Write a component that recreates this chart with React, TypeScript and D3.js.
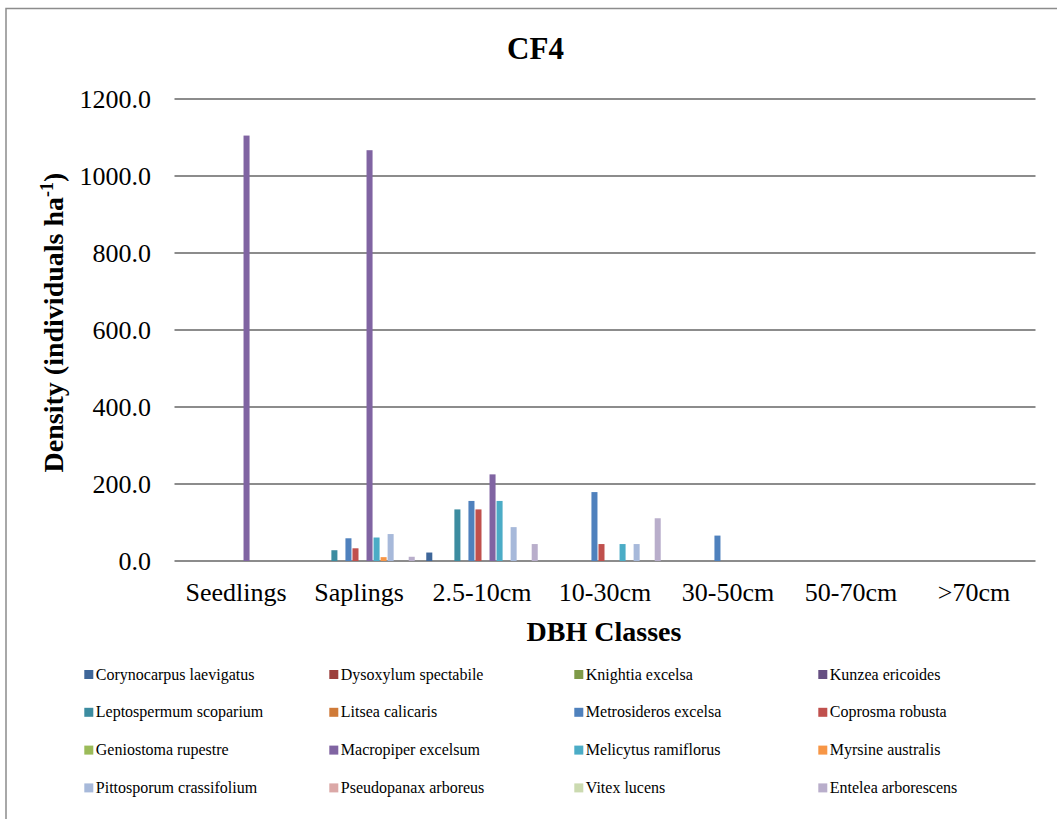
import React from "react";
import * as d3 from "d3";

const categories = ["Seedlings", "Saplings", "2.5-10cm", "10-30cm", "30-50cm", "50-70cm", ">70cm"];
const yTicks = [0, 200, 400, 600, 800, 1000, 1200];

const corynocarpus = [0, 0, 22, 0, 0, 0, 0];
const dysoxylum = [0, 0, 0, 0, 0, 0, 0];
const knightia = [0, 0, 0, 0, 0, 0, 0];
const kunzea = [0, 0, 0, 0, 0, 0, 0];
const leptospermum = [0, 28, 134, 0, 0, 0, 0];
const litsea = [0, 0, 0, 0, 0, 0, 0];
const metrosideros = [0, 59, 156, 179, 66, 0, 0];
const coprosma = [0, 33, 134, 44, 0, 0, 0];
const geniostoma = [0, 0, 0, 0, 0, 0, 0];
const macropiper = [1105, 1067, 225, 0, 0, 0, 0];
const melicytus = [0, 61, 156, 44, 0, 0, 0];
const myrsine = [0, 10, 0, 0, 0, 0, 0];
const pittosporum = [0, 70, 88, 44, 0, 0, 0];
const pseudopanax = [0, 0, 0, 0, 0, 0, 0];
const vitex = [0, 0, 0, 0, 0, 0, 0];
const entelea = [0, 11, 44, 111, 0, 0, 0];

const speciesNames = [
  "Corynocarpus laevigatus", "Dysoxylum spectabile", "Knightia excelsa", "Kunzea ericoides",
  "Leptospermum scoparium", "Litsea calicaris", "Metrosideros excelsa", "Coprosma robusta",
  "Geniostoma rupestre", "Macropiper excelsum", "Melicytus ramiflorus", "Myrsine australis",
  "Pittosporum crassifolium", "Pseudopanax arboreus", "Vitex lucens", "Entelea arborescens",
];
const speciesValues = [
  corynocarpus, dysoxylum, knightia, kunzea,
  leptospermum, litsea, metrosideros, coprosma,
  geniostoma, macropiper, melicytus, myrsine,
  pittosporum, pseudopanax, vitex, entelea,
];
const speciesColors = [
  "#3E6699", "#9C3F3C", "#7E9A48", "#664F82",
  "#3C8CA0", "#CF7A38", "#4F81BD", "#C0504D",
  "#9BBB59", "#8064A2", "#4BACC6", "#F79646",
  "#A7B9DA", "#DBA8A7", "#CBDAB0", "#B9AECB",
];

const FONT = "'Liberation Serif', 'Times New Roman', serif";

export default function App() {
  const W = 1057, H = 819;
  const left = 174.5, right = 1035.5, top = 99, bottom = 561;

  const x = d3.scaleBand<string>().domain(categories).range([left, right]).paddingInner(0).paddingOuter(0);
  const xs = d3.scaleBand<string>().domain(speciesNames).range([0, x.bandwidth()]).paddingInner(0).paddingOuter(0.75);
  const y = d3.scaleLinear().domain([0, 1200]).range([bottom, top]);
  const fmt = d3.format(".1f");
  const barW = xs.bandwidth() - 1;

  const legendCols = [84.3, 329.3, 574.3, 818.3];
  const legendRow0 = 670, legendStep = 37.8;

  return (
    <svg width={W} height={H} style={{ position: "absolute", left: 0, top: 0, display: "block", background: "#fff" }}>
      <rect x={0} y={0} width={W} height={H} fill="#fff" />
      <rect x={6} y={8.5} width={W + 20} height={H + 20} fill="none" stroke="#8c8c8c" strokeWidth={1.5} />
      <text x={535.5} y={59.3} textAnchor="middle" fontFamily={FONT} fontWeight="bold" fontSize={31}>CF4</text>

      {yTicks.map((t) => (
        <g key={t}>
          <line x1={left} x2={right} y1={y(t)} y2={y(t)} stroke="#8c8c8c" strokeWidth={2} />
          <text x={151} y={y(t)} dy="0.35em" textAnchor="end" fontFamily={FONT} fontSize={26}>{fmt(t)}</text>
        </g>
      ))}

      {speciesNames.map((name, si) =>
        speciesValues[si].map((v, ci) =>
          v > 0 ? (
            <rect
              key={name + ci}
              x={(x(categories[ci]) as number) + (xs(name) as number) + 0.5}
              y={y(v)}
              width={barW}
              height={y(0) - y(v)}
              fill={speciesColors[si]}
            />
          ) : null
        )
      )}

      {categories.map((c) => (
        <text key={c} x={(x(c) as number) + x.bandwidth() / 2} y={601} textAnchor="middle" fontFamily={FONT} fontSize={26}>{c}</text>
      ))}

      <text x={604} y={641} textAnchor="middle" fontFamily={FONT} fontWeight="bold" fontSize={28}>DBH Classes</text>
      <text transform="translate(63,322.5) rotate(-90)" textAnchor="middle" fontFamily={FONT} fontWeight="bold" fontSize={28}>
        Density (individuals ha<tspan fontSize={18} dy={-10}>-1</tspan><tspan dy={10}>)</tspan>
      </text>

      {speciesNames.map((name, i) => {
        const cx = legendCols[i % 4];
        const cy = legendRow0 + Math.floor(i / 4) * legendStep;
        return (
          <g key={name}>
            <rect x={cx} y={cy} width={9} height={9} fill={speciesColors[i]} />
            <text x={cx + 11.5} y={cy + 9.5} fontFamily={FONT} fontSize={16}>{name}</text>
          </g>
        );
      })}
    </svg>
  );
}
